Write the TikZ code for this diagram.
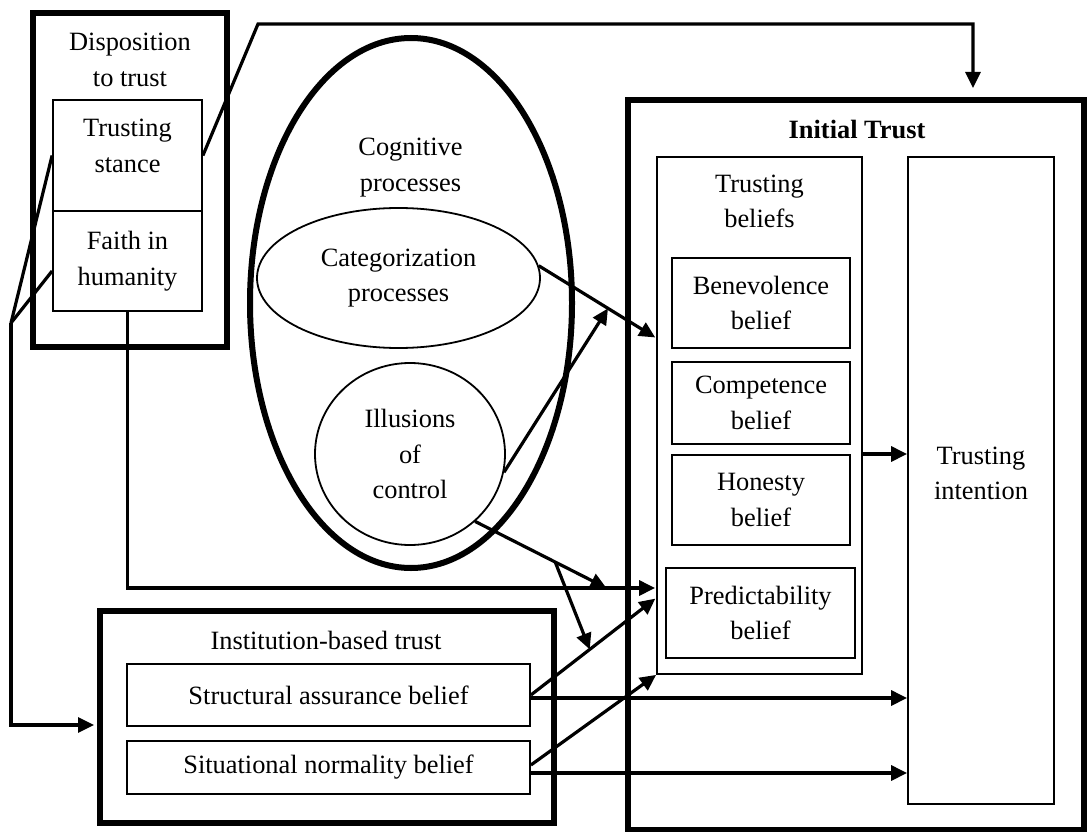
\documentclass[tikz,border=0pt]{standalone}
\usepackage{fontspec}
\setmainfont{Liberation Serif}
\usetikzlibrary{arrows.meta,calc,shapes.geometric}
\newcommand\diagfont{\fontsize{26.4pt}{35.5pt}\selectfont}
\begin{document}
\begin{tikzpicture}[x=1pt,y=-1pt,
  every node/.style={font=\diagfont},
  thickbox/.style={draw, rectangle, line width=6pt, inner sep=0pt},
  thinbox/.style={draw, rectangle, line width=1.8pt, inner sep=0pt, align=center},
  ovalbox/.style={draw, ellipse, inner sep=0pt, align=center},
  title/.style={align=center, inner sep=0pt},
  conn/.style={line width=3.2pt},
  arr/.style={conn, -{Triangle[length=16pt,width=15pt]}},
]
\useasboundingbox (0,0) rectangle (1087,832);

% Disposition to trust
\node[thickbox, minimum width=194pt, minimum height=334pt] (disp) at (130,180) {};
\node[title] (dispt) at (130,60) {Disposition\\to trust};
\node[thinbox, minimum width=149pt, minimum height=111pt] (ts) at (127.5,155.5) {};
\node[title] (tst) at (127.5,146) {Trusting\\stance};
\node[thinbox, minimum width=149pt, minimum height=100pt] (fh) at (127.5,261) {Faith in\\humanity};

% Cognitive processes
\node[ovalbox, line width=6pt, minimum width=322pt, minimum height=530pt] (cog) at (411,303) {};
\node[title] (cogt) at (410.5,167.5) {Cognitive\\processes};
\node[ovalbox, line width=1.8pt, minimum width=283pt, minimum height=140pt] (cat) at (398.5,278) {Categorization\\processes};
\node[ovalbox, line width=1.8pt, minimum width=190pt, minimum height=182pt] (ill) at (410,454) {Illusions\\of\\control};

% Initial trust
\node[thickbox, minimum width=456pt, minimum height=730pt] (init) at (856,465) {};
\node[title, font=\diagfont\bfseries] (initt) at (857,130) {Initial Trust};
\node[thinbox, minimum width=205pt, minimum height=517pt] (tb) at (759.5,415.5) {};
\node[title] (tbt) at (759.5,201.5) {Trusting\\beliefs};
\node[thinbox, minimum width=178pt, minimum height=90pt] (ben) at (761,303) {Benevolence\\belief};
\node[thinbox, minimum width=178pt, minimum height=82pt] (comp) at (761,403) {Competence\\belief};
\node[thinbox, minimum width=178pt, minimum height=90pt] (hon) at (761,500) {Honesty\\belief};
\node[thinbox, minimum width=189pt, minimum height=90pt] (pred) at (760.5,613) {Predictability\\belief};
\node[thinbox, minimum width=146pt, minimum height=647pt] (ti) at (981,480.5) {};
\node[title] (tit) at (981,473.5) {Trusting\\intention};

% Institution-based trust
\node[thickbox, minimum width=454pt, minimum height=212pt] (inst) at (327,717) {};
\node[title] (instt) at (326,640) {Institution-based trust};
\node[thinbox, minimum width=403pt, minimum height=62pt] (sa) at (328.5,695) {Structural assurance belief};
\node[thinbox, minimum width=403pt, minimum height=53pt] (sn) at (328.5,767.5) {Situational normality belief};

% Disposition links
\coordinate (k1) at (258,24);
\coordinate (k2) at (973,24);
\draw[arr, shorten >=9pt] (ts.east) -- (k1) -- (k2) -- (k2 |- init.north);
\coordinate (j1) at (11,323);
\coordinate (j2) at (11,725);
\draw[conn] (ts.west) -- (j1);
\draw[conn] ([yshift=-10pt]fh.west) -- (j1);
\draw[arr, shorten >=3pt] (j1) -- (j2) -- (j2 -| inst.west);
\coordinate (f2) at (127.5,588);
\draw[arr, shorten >=1pt] (fh.south) -- (f2) -- (f2 -| tb.west) coordinate[pos=0.906] (m2);

% Cognitive links
\draw[arr, shorten >=1pt] (cat.5) -- ([yshift=77.5pt]tb.west) coordinate[pos=0.59] (m1);
\draw[arr] (ill.-11) -- (m1);

% Institution links
\draw[arr, shorten >=1pt] (sa.east) -- ([yshift=-182.5pt]tb.west) coordinate[pos=0.47] (m4);
\draw[arr] ([yshift=2.5pt]sn.east) -- (tb.south west);
\draw[arr] ([yshift=-3pt]sa.east) -- ([yshift=-217.5pt]ti.west);
\draw[arr] ([yshift=-5.5pt]sn.east) -- ([yshift=-292.5pt]ti.west);
\draw[arr] (ill.-46) -- (m2) coordinate[pos=0.61] (m3);
\draw[arr] (m3) -- (m4);

% Beliefs to intention
\draw[arr] ([yshift=-38.5pt]tb.east) -- ([yshift=26.5pt]ti.west);
\end{tikzpicture}
\end{document}
